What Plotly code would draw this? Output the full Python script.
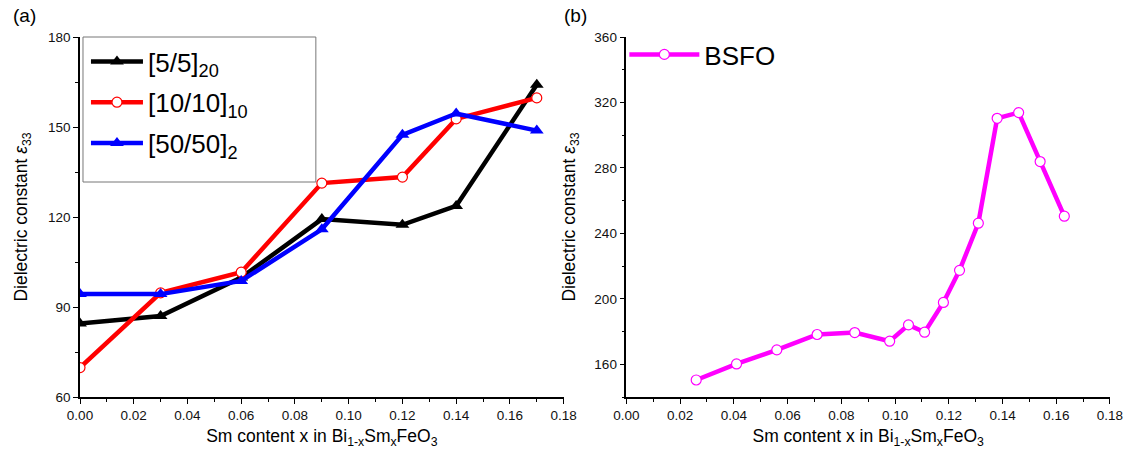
import plotly.graph_objects as go

# ---- data ----
x_a = [0.00, 0.03, 0.06, 0.09, 0.12, 0.14, 0.17]
y_55 = [84.5, 87.0, 99.8, 119.3, 117.4, 123.7, 164.1]
y_1010 = [69.8, 94.7, 101.6, 131.3, 133.3, 152.7, 159.7]
y_5050 = [94.3, 94.3, 98.7, 115.9, 147.4, 154.5, 148.8]

x_b = [0.026, 0.041, 0.056, 0.071, 0.085, 0.098, 0.105, 0.111, 0.118,
       0.124, 0.131, 0.138, 0.146, 0.154, 0.163]
y_bsfo = [150.4, 160.2, 168.8, 178.2, 179.4, 174.1, 184.1, 179.6, 197.8,
          217.4, 246.2, 310.3, 313.8, 283.9, 250.5]

names_a = ["[5/5]<sub>20</sub>", "[10/10]<sub>10</sub>", "[50/50]<sub>2</sub>"]
name_b = "BSFO"

FONT = "Liberation Sans, Arial, sans-serif"

fig = go.Figure()

fig.add_trace(go.Scatter(x=x_a, y=y_55, name=names_a[0], mode="lines+markers",
                         line=dict(color="black", width=4.5),
                         marker=dict(symbol="triangle-up", size=12, color="black"),
                         xaxis="x", yaxis="y", legend="legend", legendgroup="g1"))
fig.add_trace(go.Scatter(x=x_a, y=y_1010, name=names_a[1], mode="lines+markers",
                         line=dict(color="#ff0000", width=4.5),
                         marker=dict(symbol="circle", size=10, color="white",
                                     line=dict(color="#ff0000", width=1.2)),
                         xaxis="x", yaxis="y", legend="legend", legendgroup="g2"))
fig.add_trace(go.Scatter(x=x_a, y=y_5050, name=names_a[2], mode="lines+markers",
                         line=dict(color="#0000ff", width=4.5),
                         marker=dict(symbol="triangle-up", size=12, color="#0000ff"),
                         xaxis="x", yaxis="y", legend="legend", legendgroup="g3"))
fig.add_trace(go.Scatter(x=x_b, y=y_bsfo, name=name_b, mode="lines+markers",
                         line=dict(color="#ff00ff", width=4.5),
                         marker=dict(symbol="circle", size=10, color="white",
                                     line=dict(color="#ff00ff", width=1.2)),
                         xaxis="x2", yaxis="y2", legend="legend2"))

W, H = 1135, 460
L, R, T, B = 80, 20, 37, 63
pw = W - L - R
ph = H - T - B

def px_x(p):
    return (p - L) / pw

def px_y(p):
    return 1 - (p - T) / ph

axis_common = dict(showline=True, linecolor="black", linewidth=1.5,
                   ticks="outside", ticklen=5, tickwidth=1.2, tickcolor="black",
                   showgrid=False, zeroline=False, mirror=False,
                   tickfont=dict(family=FONT, size=13.5, color="#111"))

xtitle = "Sm content x in Bi<sub>1-x</sub>Sm<sub>x</sub>FeO<sub>3</sub>"
ytitle = "Dielectric constant <i>ε</i><sub>33</sub>"

fig.update_layout(
    width=W, height=H,
    margin=dict(l=L, r=R, t=T, b=B),
    paper_bgcolor="white", plot_bgcolor="white",
    font=dict(family=FONT, color="black"),
    xaxis=dict(domain=[px_x(80), px_x(566)], range=[0, 0.18], dtick=0.02, tickformat=".2f",
               minor=dict(dtick=0.01, ticklen=3, tickcolor="black", ticks="outside"),
               title=dict(text=xtitle, font=dict(size=17.5), standoff=8),
               anchor="y", **axis_common),
    yaxis=dict(domain=[0, 1], range=[60, 180], dtick=30,
               minor=dict(dtick=15, ticklen=3, tickcolor="black", ticks="outside"),
               title=dict(text=ytitle, font=dict(size=17.5), standoff=16),
               anchor="x", **axis_common),
    xaxis2=dict(domain=[px_x(629), px_x(1115)], range=[0, 0.18], dtick=0.02, tickformat=".2f",
                minor=dict(dtick=0.01, ticklen=3, tickcolor="black", ticks="outside"),
                title=dict(text=xtitle, font=dict(size=17.5), standoff=8),
                anchor="y2", **axis_common),
    yaxis2=dict(domain=[0, 1], range=[140, 360], dtick=40,
                minor=dict(dtick=20, ticklen=3, tickcolor="black", ticks="outside"),
                title=dict(text=ytitle, font=dict(size=17.5), standoff=14),
                anchor="x2", **axis_common),
    legend=dict(x=px_x(86), y=px_y(38), xanchor="left", yanchor="top",
                bgcolor="rgba(255,255,255,0)", borderwidth=0,
                font=dict(size=26, family=FONT, color="black"), itemwidth=52,
                tracegroupgap=4, traceorder="grouped"),
    legend2=dict(x=px_x(627), y=px_y(31), xanchor="left", yanchor="top",
                 bgcolor="rgba(255,255,255,0)", borderwidth=0,
                 font=dict(size=26, family=FONT, color="black"), itemwidth=70),
    shapes=[
        dict(type="rect", xref="paper", yref="paper",
             x0=px_x(83), x1=px_x(317), y0=px_y(182), y1=px_y(37),
             line=dict(color="#777", width=1), fillcolor="rgba(0,0,0,0)", layer="above"),
    ],
    annotations=[
        dict(text="(a)", x=px_x(11), y=px_y(16), xref="paper", yref="paper",
             showarrow=False, xanchor="left", yanchor="middle",
             font=dict(size=19, family=FONT)),
        dict(text="(b)", x=px_x(564), y=px_y(16), xref="paper", yref="paper",
             showarrow=False, xanchor="left", yanchor="middle",
             font=dict(size=19, family=FONT)),
    ],
    showlegend=True,
)

fig.write_html("out.html")
